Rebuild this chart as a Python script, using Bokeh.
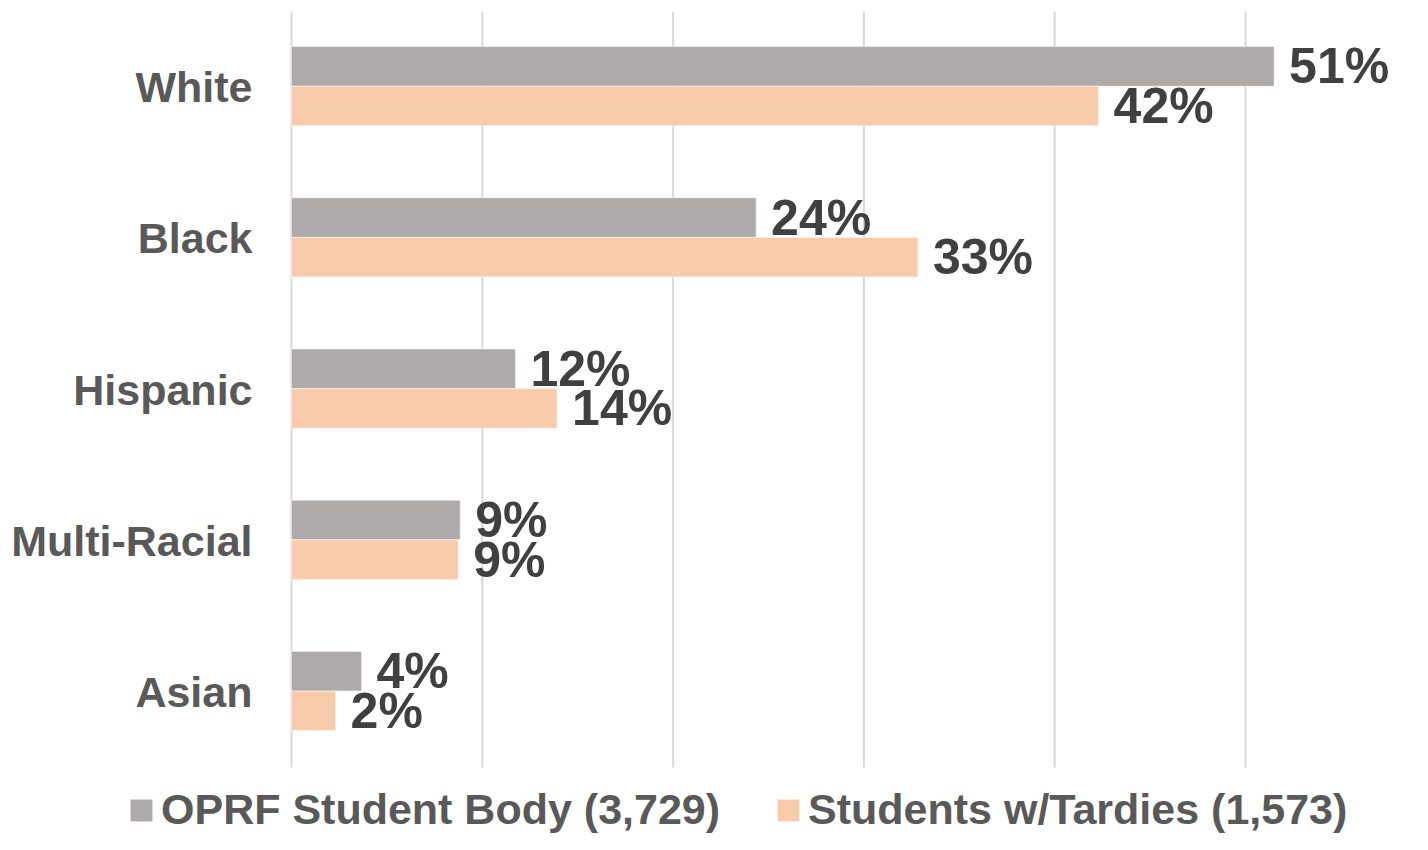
from bokeh.plotting import figure
from bokeh.models import ColumnDataSource, Range1d, Legend, LegendItem
from bokeh.transform import dodge
from bokeh.embed import file_html
from bokeh.resources import INLINE

categories = ["White", "Black", "Hispanic", "Multi-Racial", "Asian"]
student_body = [51.5, 24.35, 11.74, 8.84, 3.67]
tardies = [42.3, 32.83, 13.92, 8.74, 2.31]
body_labels = ["51%", "24%", "12%", "9%", "4%"]
tardy_labels = ["42%", "33%", "14%", "9%", "2%"]
series_names = ["OPRF Student Body (3,729)", "Students w/Tardies (1,573)"]
grid_ticks = [0, 10, 20, 30, 40, 50]

GRAY = "#AEAAAA"
PEACH = "#F8CBAD"
FONT = "Liberation Sans"

n = len(categories)
ypos = [n - 1 - i for i in range(n)]  # White on top

src = ColumnDataSource(dict(cat=categories, y=ypos, body=student_body, tardy=tardies,
                            body_lbl=body_labels, tardy_lbl=tardy_labels))

W, H = 1412, 834
PX_X = 19.08          # pixels per percentage point
PX_Y = 151.2          # pixels per category slot
ZERO_PX = 291         # x pixel of 0%
TOP_PX, BOTTOM_PX = 11, 67

x_start = -ZERO_PX / PX_X
y_start = -0.5 - BOTTOM_PX / PX_Y
y_end = (n - 0.5) + TOP_PX / PX_Y

p = figure(width=W, height=H, output_backend="svg", toolbar_location=None,
           x_range=Range1d(x_start, x_start + W / PX_X),
           y_range=Range1d(y_start, y_end),
           x_axis_location=None, y_axis_location=None,
           min_border_left=0, min_border_right=0, min_border_top=0, min_border_bottom=0)
p.outline_line_color = None
p.background_fill_color = "white"
p.border_fill_color = "white"
p.grid.visible = False

# vertical gridlines spanning the category area
gsrc = ColumnDataSource(dict(x=grid_ticks, y0=[-0.5] * len(grid_ticks), y1=[n - 0.5] * len(grid_ticks)))
p.segment(x0="x", x1="x", y0="y0", y1="y1", source=gsrc, line_color="#D9D9D9", line_width=2)

OFF = 0.137
BH = 0.262
r1 = p.hbar(y=dodge("y", OFF), left=0, right="body", height=BH,
            source=src, fill_color=GRAY, line_color="white", line_alpha=0.5, line_width=1)
r2 = p.hbar(y=dodge("y", -OFF + 0.012), left=0, right="tardy", height=BH,
            source=src, fill_color=PEACH, line_color="white", line_alpha=0.5, line_width=1)

for col, lbl, off in [("body", "body_lbl", OFF), ("tardy", "tardy_lbl", -OFF + 0.012)]:
    p.text(x=col, y=dodge("y", off), text=lbl, source=src,
           x_offset=15, y_offset=0, text_baseline="middle", text_align="left",
           text_font={"value": FONT}, text_font_style="bold", text_font_size="50px",
           text_color="#404040")

# category labels (left of the zero line)
p.text(x=0, y="y", text="cat", source=src, x_offset=-39, text_align="right",
       text_baseline="middle", text_font={"value": FONT}, text_font_style="bold",
       text_font_size="43px", text_color="#595959")

legend = Legend(items=[LegendItem(label=series_names[0], renderers=[r1]),
                       LegendItem(label=series_names[1], renderers=[r2])],
                orientation="horizontal", location=(127, 0),
                glyph_width=28, glyph_height=28, label_standoff=6, spacing=54,
                padding=0, margin=0, border_line_color=None, background_fill_alpha=0,
                label_text_font=FONT, label_text_font_style="bold",
                label_text_font_size="43px", label_text_color="#595959")
p.add_layout(legend, "center")

open("out.html", "w").write(file_html(p, INLINE))
